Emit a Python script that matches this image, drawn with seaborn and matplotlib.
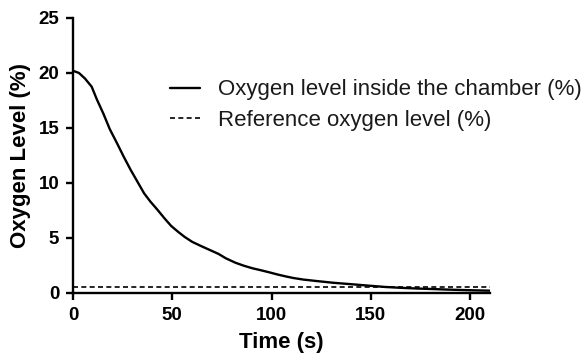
import matplotlib
matplotlib.use("Agg")
import matplotlib.pyplot as plt
import seaborn as sns
import pandas as pd

# data
time_s = [0, 3, 6, 9.4, 12, 15.3, 18.5, 22.2, 25.5, 29, 32.5, 35.8, 39, 42.6, 46,
          49.4, 53, 56.2, 60, 64.7, 69, 73.3, 77, 81.8, 86, 90.3, 95, 98.8, 103,
          107.3, 111, 116, 123, 131, 140, 148, 157, 165, 174, 181, 187, 194, 200, 205, 210]
oxygen = [20.2, 20.0, 19.5, 18.75, 17.6, 16.3, 14.9, 13.6, 12.4, 11.2, 10.1, 9.06, 8.3, 7.55, 6.8,
          6.1, 5.55, 5.1, 4.65, 4.25, 3.9, 3.55, 3.15, 2.75, 2.48, 2.25, 2.05, 1.88, 1.68,
          1.5, 1.36, 1.22, 1.08, 0.93, 0.8, 0.68, 0.55, 0.47, 0.4, 0.36, 0.32, 0.28, 0.25, 0.23, 0.21]
ref_level = 0.55
labels = ["Oxygen level inside the chamber (%)", "Reference oxygen level (%)"]

df = pd.DataFrame({"Time": time_s, "O2": oxygen})
ref = pd.DataFrame({"Time": [0, 210], "O2": [ref_level, ref_level]})

sns.set_style("ticks")
plt.rcParams["font.family"] = ["Liberation Sans", "DejaVu Sans"]
plt.rcParams["text.color"] = "black"
plt.rcParams["axes.labelcolor"] = "black"
plt.rcParams["xtick.color"] = "black"
plt.rcParams["ytick.color"] = "black"

fig = plt.figure(figsize=(5.86, 3.61), dpi=100)
ax = fig.add_axes([0.1246, 0.1884, 0.7116, 0.7618])

sns.lineplot(data=df, x="Time", y="O2", ax=ax, color="black", lw=1.7, label=labels[0])
sns.lineplot(data=ref, x="Time", y="O2", ax=ax, color="black", lw=1.2,
             linestyle=(0, (3, 2)), label=labels[1])

ax.set_xlim(0, 210)
ax.set_ylim(0, 25)
ax.set_xticks([0, 50, 100, 150, 200])
ax.set_yticks([0, 5, 10, 15, 20, 25])
sns.despine(ax=ax)
for s in ["left", "bottom"]:
    ax.spines[s].set_linewidth(1.7)
    ax.spines[s].set_color("black")
ax.tick_params(width=1.7, length=5, colors="black", labelsize=13.5, pad=5)
for t in ax.get_xticklabels() + ax.get_yticklabels():
    t.set_fontweight("bold")
ax.set_xlabel("Time (s)", fontsize=16, fontweight="bold", labelpad=6)
ax.set_ylabel("Oxygen Level (%)", fontsize=16, fontweight="bold", labelpad=5)

leg = ax.legend(loc="upper left", bbox_to_anchor=(0.2326, 0.777), frameon=False, fontsize=16,
                handlelength=1.36, handletextpad=0.8, borderpad=0, borderaxespad=0,
                labelspacing=0.42)
for t in leg.get_texts():
    t.set_color("#1a1a1a")

fig.savefig("out.png", dpi=100)
